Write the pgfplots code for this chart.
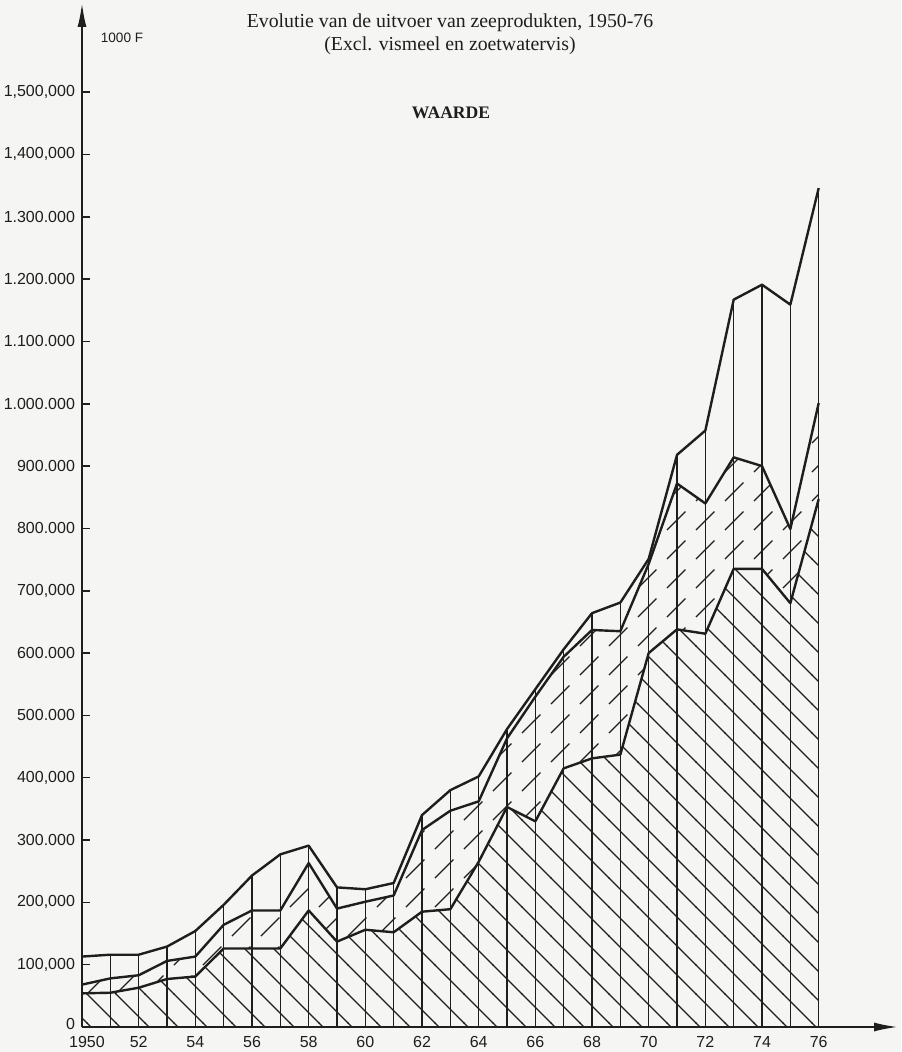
\documentclass[border=0pt]{standalone}
\usepackage{fontspec}
\setmainfont{Liberation Serif}
\newfontfamily\tickfont{Liberation Sans}
\usepackage{pgfplots}
\pgfplotsset{compat=1.18}
\usepackage{pgfplotstable}
\usepgfplotslibrary{fillbetween}
\usetikzlibrary{patterns,arrows.meta}

\definecolor{paper}{RGB}{245,245,243}
\definecolor{ink}{RGB}{30,30,30}
\pagecolor{paper}

\pgfdeclarepatternformonly{hatchNW}{\pgfqpoint{-1pt}{-1pt}}{\pgfqpoint{15.5pt}{15.5pt}}{\pgfqpoint{14.5pt}{14.5pt}}{%
  \pgfsetlinewidth{0.6pt}%
  \pgfpathmoveto{\pgfqpoint{-0.2pt}{14.7pt}}%
  \pgfpathlineto{\pgfqpoint{14.7pt}{-0.2pt}}%
  \pgfusepath{stroke}}
\pgfdeclarepatternformonly{dashNE}{\pgfqpoint{-1pt}{-1pt}}{\pgfqpoint{15.5pt}{15.5pt}}{\pgfqpoint{14.5pt}{14.5pt}}{%
  \pgfsetlinewidth{0.6pt}%
  \pgfsetdash{{13pt}{7.5pt}}{0pt}%
  \pgfpathmoveto{\pgfqpoint{0pt}{0pt}}%
  \pgfpathlineto{\pgfqpoint{14.5pt}{14.5pt}}%
  \pgfusepath{stroke}}

\pgfplotstableread{
year bot mid top
1950 54000 68000 113000
1951 55000 78000 116000
1952 63000 83000 116000
1953 77000 106000 129000
1954 81000 113000 154000
1955 126000 164000 196000
1956 126000 187000 243000
1957 126000 187000 277000
1958 187000 263000 291000
1959 137000 190000 224000
1960 156000 201000 221000
1961 152000 211000 231000
1962 185000 316000 340000
1963 189000 347000 380000
1964 265000 362000 402000
1965 353000 463000 478000
1966 330000 530000 542000
1967 415000 594000 606000
1968 431000 637000 664000
1969 437000 635000 681000
1970 600000 743000 751000
1971 638000 872000 918000
1972 631000 840000 957000
1973 735000 914000 1167000
1974 735000 900000 1191000
1975 680000 799000 1159000
1976 847000 1001000 1346000
}\waarde

\begin{document}%
\begin{tikzpicture}
\begin{axis}[
  at={(0,0)}, anchor=south west,
  scale only axis, width=408pt, height=512pt,
  xmin=1950, xmax=1978.8, ymin=0, ymax=1643000,
  axis lines=left,
  axis line style={ink, line width=1pt, -{Latex[length=12pt,width=4.5pt]}},
  xtick={1950,1952,...,1976},
  xticklabels={\hspace*{5pt}1950,52,54,56,58,60,62,64,66,68,70,72,74,76},
  ytick={0,100000,...,1500000},
  yticklabels={\raisebox{3pt}{0},{100,000},{200,000},300.000,{400,000},500.000,600.000,{700,000},800.000,900.000,1.000.000,1.100.000,1.200.000,1.300.000,{1,400,000},{1,500,000}},
  scaled y ticks=false,
  tick align=inside,
  major tick length=4pt,
  xtick style={draw=none},
  ytick style={ink, line width=0.8pt},
  ticklabel style={font=\tickfont\fontsize{8}{9}\selectfont, text=ink},
  xticklabel style={yshift=-1pt},
  clip=false,
]
\addplot[pattern=hatchNW, pattern color=ink, draw=none] table[x=year,y=bot]{\waarde} \closedcycle;
\addplot[name path=B, ink, line width=1.2pt, line join=round] table[x=year,y=bot]{\waarde};
\addplot[name path=M, ink, line width=1.2pt, line join=round] table[x=year,y=mid]{\waarde};
\addplot[pattern=dashNE, pattern color=ink, draw=none] fill between[of=B and M];
\addplot[ycomb, ink, line width=0.6pt, mark=none] table[x=year,y=top]{\waarde};
\addplot[ink, line width=1.2pt, line join=round] table[x=year,y=top]{\waarde};
\end{axis}
\node[font=\fontsize{9.9}{11}\selectfont, text=ink] at (184pt,502.2pt) {Evolutie van de uitvoer van zeeprodukten, 1950-76};
\node[font=\fontsize{9.9}{11}\selectfont, text=ink] at (184pt,490.8pt) {(Excl. vismeel en zoetwatervis)};
\node[font=\bfseries\fontsize{8.8}{11}\selectfont, text=ink] at (184.5pt,457.1pt) {WAARDE};
\node[font=\tickfont\fontsize{6.8}{8}\selectfont, text=ink] at (20pt,494.7pt) {1000 F};
\pgfresetboundingbox
\path[use as bounding box] (-41pt,-12.5pt) rectangle (409.5pt,513.5pt);
\end{tikzpicture}%
\end{document}
